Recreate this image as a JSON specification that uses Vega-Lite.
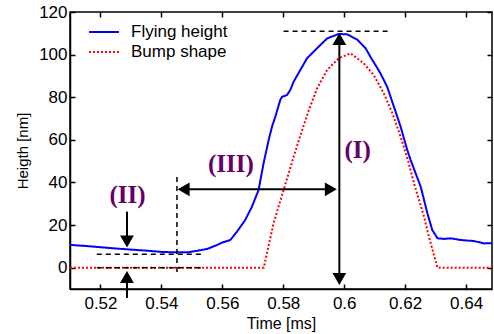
{
  "$schema": "https://vega.github.io/schema/vega-lite/v6.json",
  "width": 422,
  "height": 277,
  "autosize": {"type": "none"},
  "padding": {"left": 70, "top": 12, "right": 2, "bottom": 45},
  "background": "white",
  "config": {
    "font": "Liberation Sans",
    "view": {"stroke": "black", "strokeWidth": 1.5},
    "axis": {
      "domainColor": "black", "domainWidth": 1.5, "tickColor": "black", "tickWidth": 1.5,
      "tickSize": -5, "labelColor": "black", "titleColor": "black",
      "labelFont": "Liberation Sans", "titleFont": "Liberation Sans", "grid": false,
      "titleFontWeight": "normal", "labelFontSize": 17
    }
  },
  "datasets": {
    "curves": [
      {"t": 0.510, "h": 10.7, "series": "Flying height"},
      {"t": 0.515, "h": 10.2, "series": "Flying height"},
      {"t": 0.520, "h": 9.6, "series": "Flying height"},
      {"t": 0.525, "h": 9.0, "series": "Flying height"},
      {"t": 0.530, "h": 8.5, "series": "Flying height"},
      {"t": 0.535, "h": 8.0, "series": "Flying height"},
      {"t": 0.540, "h": 7.4, "series": "Flying height"},
      {"t": 0.545, "h": 7.2, "series": "Flying height"},
      {"t": 0.549, "h": 7.3, "series": "Flying height"},
      {"t": 0.552, "h": 8.0, "series": "Flying height"},
      {"t": 0.555, "h": 8.8, "series": "Flying height"},
      {"t": 0.558, "h": 10.5, "series": "Flying height"},
      {"t": 0.560, "h": 11.8, "series": "Flying height"},
      {"t": 0.5626, "h": 13.0, "series": "Flying height"},
      {"t": 0.5648, "h": 16.9, "series": "Flying height"},
      {"t": 0.5675, "h": 22.4, "series": "Flying height"},
      {"t": 0.5697, "h": 28.6, "series": "Flying height"},
      {"t": 0.5719, "h": 36.5, "series": "Flying height"},
      {"t": 0.5736, "h": 49.5, "series": "Flying height"},
      {"t": 0.5752, "h": 59.9, "series": "Flying height"},
      {"t": 0.5763, "h": 66.2, "series": "Flying height"},
      {"t": 0.5774, "h": 70.9, "series": "Flying height"},
      {"t": 0.5790, "h": 78.7, "series": "Flying height"},
      {"t": 0.5796, "h": 80.2, "series": "Flying height"},
      {"t": 0.5812, "h": 81.0, "series": "Flying height"},
      {"t": 0.5823, "h": 83.4, "series": "Flying height"},
      {"t": 0.5834, "h": 87.3, "series": "Flying height"},
      {"t": 0.5856, "h": 92.8, "series": "Flying height"},
      {"t": 0.5878, "h": 98.3, "series": "Flying height"},
      {"t": 0.5911, "h": 103.0, "series": "Flying height"},
      {"t": 0.5944, "h": 107.6, "series": "Flying height"},
      {"t": 0.5982, "h": 109.7, "series": "Flying height"},
      {"t": 0.6010, "h": 109.5, "series": "Flying height"},
      {"t": 0.6043, "h": 107.0, "series": "Flying height"},
      {"t": 0.6070, "h": 103.0, "series": "Flying height"},
      {"t": 0.6086, "h": 99.0, "series": "Flying height"},
      {"t": 0.6119, "h": 91.2, "series": "Flying height"},
      {"t": 0.6141, "h": 84.9, "series": "Flying height"},
      {"t": 0.6163, "h": 75.6, "series": "Flying height"},
      {"t": 0.6185, "h": 66.2, "series": "Flying height"},
      {"t": 0.6207, "h": 55.2, "series": "Flying height"},
      {"t": 0.6218, "h": 50.5, "series": "Flying height"},
      {"t": 0.6251, "h": 38.0, "series": "Flying height"},
      {"t": 0.6273, "h": 25.5, "series": "Flying height"},
      {"t": 0.6289, "h": 17.7, "series": "Flying height"},
      {"t": 0.6306, "h": 13.8, "series": "Flying height"},
      {"t": 0.6328, "h": 13.5, "series": "Flying height"},
      {"t": 0.6350, "h": 13.8, "series": "Flying height"},
      {"t": 0.6382, "h": 13.0, "series": "Flying height"},
      {"t": 0.6426, "h": 12.5, "series": "Flying height"},
      {"t": 0.6459, "h": 11.4, "series": "Flying height"},
      {"t": 0.6485, "h": 11.5, "series": "Flying height"},
      {"t": 0.510, "h": 0, "series": "Bump shape"},
      {"t": 0.5736, "h": 0, "series": "Bump shape"},
      {"t": 0.5768, "h": 20.8, "series": "Bump shape"},
      {"t": 0.5801, "h": 36.5, "series": "Bump shape"},
      {"t": 0.5834, "h": 52.0, "series": "Bump shape"},
      {"t": 0.5856, "h": 62.0, "series": "Bump shape"},
      {"t": 0.5884, "h": 74.0, "series": "Bump shape"},
      {"t": 0.5911, "h": 84.2, "series": "Bump shape"},
      {"t": 0.5944, "h": 92.8, "series": "Bump shape"},
      {"t": 0.5982, "h": 98.3, "series": "Bump shape"},
      {"t": 0.6021, "h": 100.6, "series": "Bump shape"},
      {"t": 0.6064, "h": 95.9, "series": "Bump shape"},
      {"t": 0.6097, "h": 90.4, "series": "Bump shape"},
      {"t": 0.6130, "h": 81.8, "series": "Bump shape"},
      {"t": 0.6158, "h": 72.5, "series": "Bump shape"},
      {"t": 0.6185, "h": 61.5, "series": "Bump shape"},
      {"t": 0.6210, "h": 50.0, "series": "Bump shape"},
      {"t": 0.6229, "h": 39.6, "series": "Bump shape"},
      {"t": 0.6262, "h": 23.9, "series": "Bump shape"},
      {"t": 0.6278, "h": 14.5, "series": "Bump shape"},
      {"t": 0.6306, "h": 0, "series": "Bump shape"},
      {"t": 0.6485, "h": 0, "series": "Bump shape"}
    ],
    "dashed": [
      {"x": 0.5801, "x2": 0.6147, "y": 111, "y2": 111},
      {"x": 0.5451, "x2": 0.5451, "y": -2, "y2": 43},
      {"x": 0.5188, "x2": 0.5539, "y": 6.3, "y2": 6.3},
      {"x": 0.5188, "x2": 0.5539, "y": 0, "y2": 0}
    ],
    "arrows": [
      {"x": 0.5984, "x2": 0.5984, "y": -5, "y2": 107},
      {"x": 0.5473, "x2": 0.5956, "y": 36.8, "y2": 36.8},
      {"x": 0.5287, "x2": 0.5287, "y": 26.3, "y2": 12},
      {"x": 0.5287, "x2": 0.5287, "y": -14.2, "y2": -4}
    ],
    "heads": [
      {"x": 0.5984, "y": 107.3, "dir": "up"},
      {"x": 0.5984, "y": -5.3, "dir": "down"},
      {"x": 0.5473, "y": 36.8, "dir": "left"},
      {"x": 0.5956, "y": 36.8, "dir": "right"},
      {"x": 0.5287, "y": 12.3, "dir": "down"},
      {"x": 0.5287, "y": -4.4, "dir": "up"}
    ],
    "labels": [
      {"x": 0.6044, "y": 55.3, "text": "(I)"},
      {"x": 0.5289, "y": 34.1, "text": "(II)"},
      {"x": 0.5628, "y": 48.7, "text": "(III)"}
    ]
  },
  "layer": [
    {
      "data": {"name": "curves"},
      "mark": {"type": "point", "opacity": 0},
      "encoding": {
        "x": {"field": "t", "type": "quantitative",
          "scale": {"domain": [0.51, 0.6485], "nice": false, "zero": false},
          "axis": {"orient": "top", "labels": false, "title": null, "domain": false,
            "values": [0.52, 0.54, 0.56, 0.58, 0.6, 0.62, 0.64]}},
        "y": {"field": "h", "type": "quantitative",
          "scale": {"domain": [-10, 120], "nice": false, "zero": false},
          "axis": {"orient": "right", "labels": false, "title": null, "domain": false,
            "values": [0, 20, 40, 60, 80, 100, 120]}}
      }
    },
    {
      "data": {"name": "curves"},
      "mark": {"type": "line", "strokeWidth": 2},
      "encoding": {
        "x": {"field": "t", "type": "quantitative",
          "axis": {"orient": "bottom", "title": "Time [ms]", "titleFontSize": 16, "titlePadding": 4,
            "labelPadding": 11, "format": ".2~f",
            "values": [0.52, 0.54, 0.56, 0.58, 0.6, 0.62, 0.64]}},
        "y": {"field": "h", "type": "quantitative",
          "axis": {"orient": "left", "title": "Heigth [nm]", "titleFontSize": 15, "titlePadding": 8,
            "labelPadding": 8, "values": [0, 20, 40, 60, 80, 100, 120]}},
        "color": {"field": "series", "type": "nominal",
          "scale": {"domain": ["Flying height", "Bump shape"], "range": ["#0000ff", "#ff0000"]},
          "legend": {"orient": "none", "legendX": 18, "legendY": 10, "title": null,
            "symbolType": "stroke", "symbolSize": 900, "symbolStrokeWidth": 2,
            "labelFontSize": 17, "labelOffset": 11, "labelColor": "black", "clipHeight": 20,
            "rowPadding": 0, "padding": 0}},
        "strokeDash": {"field": "series", "type": "nominal",
          "scale": {"domain": ["Flying height", "Bump shape"], "range": [[1, 0], [2, 2]]}}
      }
    },
    {
      "data": {"name": "dashed"},
      "mark": {"type": "rule", "color": "black", "strokeWidth": 1.5, "strokeDash": [5, 4]},
      "encoding": {
        "x": {"field": "x", "type": "quantitative", "axis": null},
        "x2": {"field": "x2"},
        "y": {"field": "y", "type": "quantitative", "axis": null},
        "y2": {"field": "y2"}
      }
    },
    {
      "data": {"name": "arrows"},
      "mark": {"type": "rule", "color": "black", "strokeWidth": 2},
      "encoding": {
        "x": {"field": "x", "type": "quantitative", "axis": null},
        "x2": {"field": "x2"},
        "y": {"field": "y", "type": "quantitative", "axis": null},
        "y2": {"field": "y2"}
      }
    },
    {
      "data": {"name": "heads"},
      "mark": {"type": "point", "filled": true, "color": "black", "opacity": 1, "size": 190},
      "encoding": {
        "x": {"field": "x", "type": "quantitative", "axis": null},
        "y": {"field": "y", "type": "quantitative", "axis": null},
        "shape": {"field": "dir", "type": "nominal", "legend": null,
          "scale": {"domain": ["up", "down", "left", "right"],
            "range": ["triangle-up", "triangle-down", "triangle-left", "triangle-right"]}}
      }
    },
    {
      "data": {"name": "labels"},
      "mark": {"type": "text", "font": "Liberation Serif", "fontWeight": "bold", "fontSize": 25,
        "color": "#660066", "align": "center", "baseline": "middle"},
      "encoding": {
        "x": {"field": "x", "type": "quantitative", "axis": null},
        "y": {"field": "y", "type": "quantitative", "axis": null},
        "text": {"field": "text"}
      }
    }
  ]
}
